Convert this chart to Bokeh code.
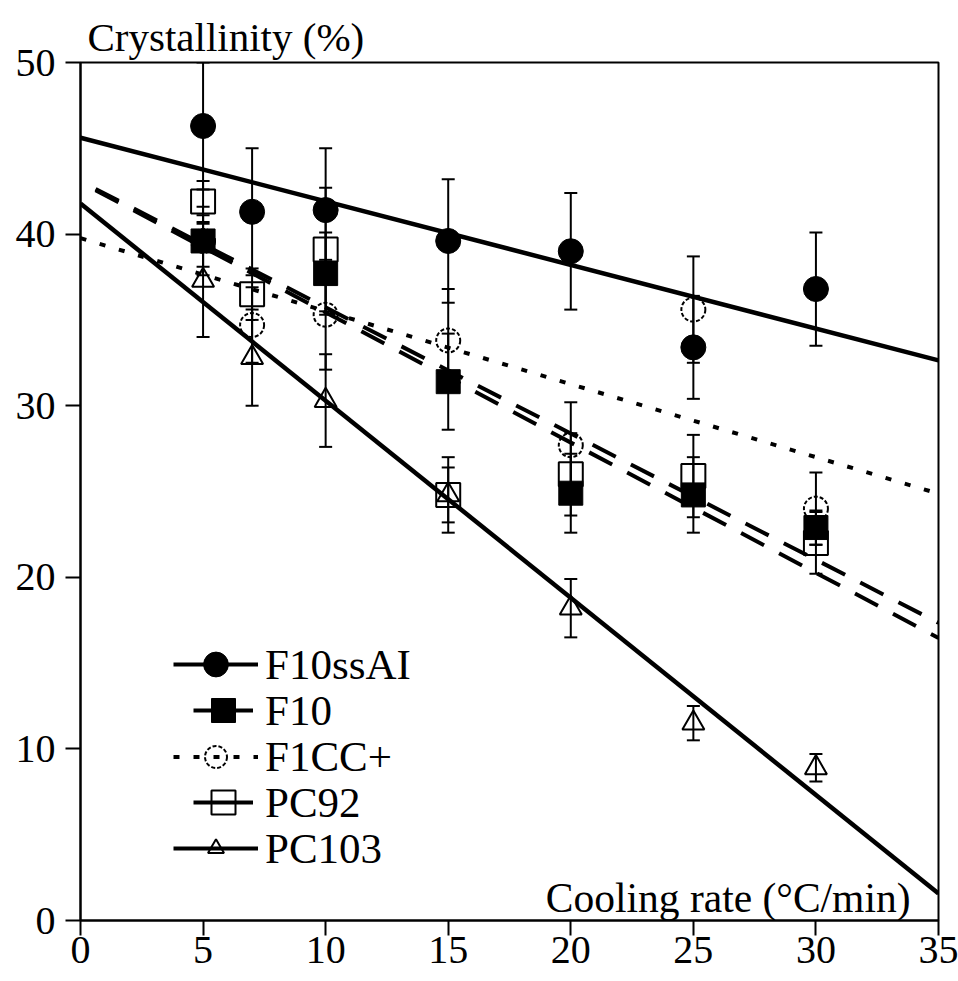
import numpy as np
from bokeh.plotting import figure
from bokeh.models import (ColumnDataSource, Whisker, TeeHead, Legend, LegendItem,
                          Label, FixedTicker, Range1d)
from bokeh.embed import file_html
from bokeh.resources import INLINE

# ---------------- data ----------------
x_ticks = [0, 5, 10, 15, 20, 25, 30, 35]
y_ticks = [0, 10, 20, 30, 40, 50]

rate_all = [5, 7, 10, 15, 20, 25, 30]
rate_f10 = [5, 10, 15, 20, 25, 30]

f10ssai_y = [46.3, 41.3, 41.4, 39.6, 39.0, 33.4, 36.8]
f10ssai_err = [3.7, 3.7, 3.6, 3.6, 3.4, 3.0, 3.3]

f10_y = [39.6, 37.7, 31.4, 24.9, 24.8, 22.9]
f10_err = [2.0, 2.4, 2.8, 2.3, 2.2, 1.0]

f1cc_y = [39.6, 34.7, 35.3, 33.8, 27.7, 35.6, 24.0]
f1cc_err = [1.5, 2.2, 3.2, 3.0, 2.5, 3.1, 2.1]

pc92_y = [41.9, 36.5, 39.1, 24.8, 26.0, 25.9, 22.0]
pc92_err = [1.2, 1.5, 3.6, 2.2, 2.4, 2.4, 1.8]

pc103_y = [37.3, 32.8, 30.3, 24.8, 18.2, 11.5, 8.9]
pc103_err = [3.3, 2.8, 2.7, 1.6, 1.7, 1.0, 0.8]

y_title = "Crystallinity (%)"
x_title = "Cooling rate (°C/min)"

FONT = "Liberation Serif"

p = figure(width=958, height=980, output_backend="svg", toolbar_location=None,
           x_range=Range1d(x_ticks[0], x_ticks[-1]), y_range=Range1d(y_ticks[0], y_ticks[-1]),
           min_border_left=80, min_border_right=20, min_border_top=62, min_border_bottom=60)
p.xgrid.visible = False
p.ygrid.visible = False
p.outline_line_color = "black"
p.outline_line_width = 2
p.outline_line_alpha = 1
p.background_fill_color = "white"
p.border_fill_color = "white"

p.title.text = y_title
p.title.align = "left"
p.title.offset = 7
p.title.standoff = 5
p.title.text_font = FONT
p.title.text_font_size = "41px"
p.title.text_font_style = "normal"
p.title.text_color = "black"

for ax in (p.xaxis[0], p.yaxis[0]):
    ax.axis_line_width = 2
    ax.major_tick_line_width = 2
    ax.major_tick_out = 15
    ax.major_tick_in = 0
    ax.minor_tick_line_color = None
    ax.major_label_text_font = FONT
    ax.major_label_text_font_size = "40px"
    ax.major_label_text_color = "black"
p.xaxis[0].ticker = FixedTicker(ticks=x_ticks)
p.yaxis[0].ticker = FixedTicker(ticks=y_ticks)
p.xaxis[0].major_label_standoff = 1
p.yaxis[0].major_label_standoff = 10

series = [
    dict(name="F10ssAI", x=rate_all, y=f10ssai_y, err=f10ssai_err, marker="circle", size=25,
         filled=True, fit_dash="solid", leg_dash="solid", mdash="solid",
         leg_w=85, leg_h=62, leg_x=93, leg_standoff=7),
    dict(name="F10", x=rate_f10, y=f10_y, err=f10_err, marker="square", size=24,
         filled=True, fit_dash="26 17", leg_dash="solid", mdash="solid",
         leg_w=60, leg_h=60, leg_x=113, leg_standoff=12),
    dict(name="F1CC+", x=rate_all, y=f1cc_y, err=f1cc_err, marker="circle", size=24,
         filled=False, fit_dash="6 14", leg_dash="6 14", mdash="4 2",
         leg_w=85, leg_h=55, leg_x=93, leg_standoff=7),
    dict(name="PC92", x=rate_all, y=pc92_y, err=pc92_err, marker="square", size=24,
         filled=False, fit_dash="26 17", leg_dash="solid", mdash="solid",
         leg_w=60, leg_h=60, leg_x=113, leg_standoff=12),
    dict(name="PC103", x=rate_all, y=pc103_y, err=pc103_err, marker="triangle", size=22,
         filled=False, fit_dash="solid", leg_dash="solid", mdash="solid",
         leg_w=85, leg_h=40, leg_x=93, leg_standoff=7),
]

x_fit = np.array([x_ticks[0], x_ticks[-1]], dtype=float)

# fitted regression lines
for s in series:
    coef = np.polyfit(s["x"], s["y"], 1)
    kw = dict(line_color="black", line_width=4.5)
    if s["fit_dash"] != "solid":
        kw["line_dash"] = s["fit_dash"]
        kw["line_dash_offset"] = 26 if s["fit_dash"].startswith("26") else 0
        kw["line_width"] = 4
    p.line(x_fit, np.polyval(coef, x_fit), **kw)

# error bars
for s in series:
    y = np.array(s["y"]); e = np.array(s["err"])
    src = ColumnDataSource(dict(x=s["x"], upper=y + e, lower=y - e))
    w = Whisker(base="x", upper="upper", lower="lower", source=src, dimension="height",
                line_color="black", line_width=2,
                upper_head=TeeHead(size=13, line_width=2, line_color="black"),
                lower_head=TeeHead(size=13, line_width=2, line_color="black"))
    p.add_layout(w)

# markers: open ones first, filled ones on top
marker_r = {}
order = [s for s in series if not s["filled"]] + [s for s in series if s["filled"]]
for s in order:
    src = ColumnDataSource(dict(x=s["x"], y=s["y"]))
    if s["filled"]:
        r = p.scatter("x", "y", source=src, marker=s["marker"], size=s["size"],
                      fill_color="black", line_color="black", line_width=1)
    else:
        kw = dict(fill_alpha=0, line_color="black", line_width=2)
        if s["mdash"] != "solid":
            kw["line_dash"] = s["mdash"]
        r = p.scatter("x", "y", source=src, marker=s["marker"], size=s["size"], **kw)
    marker_r[s["name"]] = r

# legend: one single-row legend per series so rows can sit closer than the glyph box
ROW_H = 62      # box height of each legend row (px)
ROW_STEP = 46   # distance between row centres (px)
BOTTOM = 41     # bottom of the last row above the frame bottom (px)
n = len(series)
for i, s in enumerate(series):
    kw = dict(line_color="black", line_width=4)
    if s["leg_dash"] != "solid":
        kw["line_dash"] = s["leg_dash"]
    lr = p.line(x=[np.nan], y=[np.nan], **kw)
    item = LegendItem(label=s["name"], renderers=[lr, marker_r[s["name"]]])
    leg = Legend(items=[item], location=(s["leg_x"], BOTTOM + (n - 1 - i) * ROW_STEP),
                 orientation="vertical",
                 glyph_width=s["leg_w"], glyph_height=s["leg_h"], label_height=ROW_H,
                 spacing=0, label_standoff=s["leg_standoff"], padding=0, margin=0,
                 border_line_alpha=0, background_fill_alpha=0,
                 label_text_font=FONT, label_text_font_size="43px", label_text_color="black")
    p.add_layout(leg, "center")

# x axis title inside the frame, bottom right
p.add_layout(Label(x=x_ticks[-1], y=y_ticks[0], x_offset=-28, y_offset=23,
                   text=x_title, text_font=FONT, text_font_size="41.5px",
                   text_align="right", text_baseline="alphabetic", text_color="black"))

open("out.html", "w").write(file_html(p, INLINE))
